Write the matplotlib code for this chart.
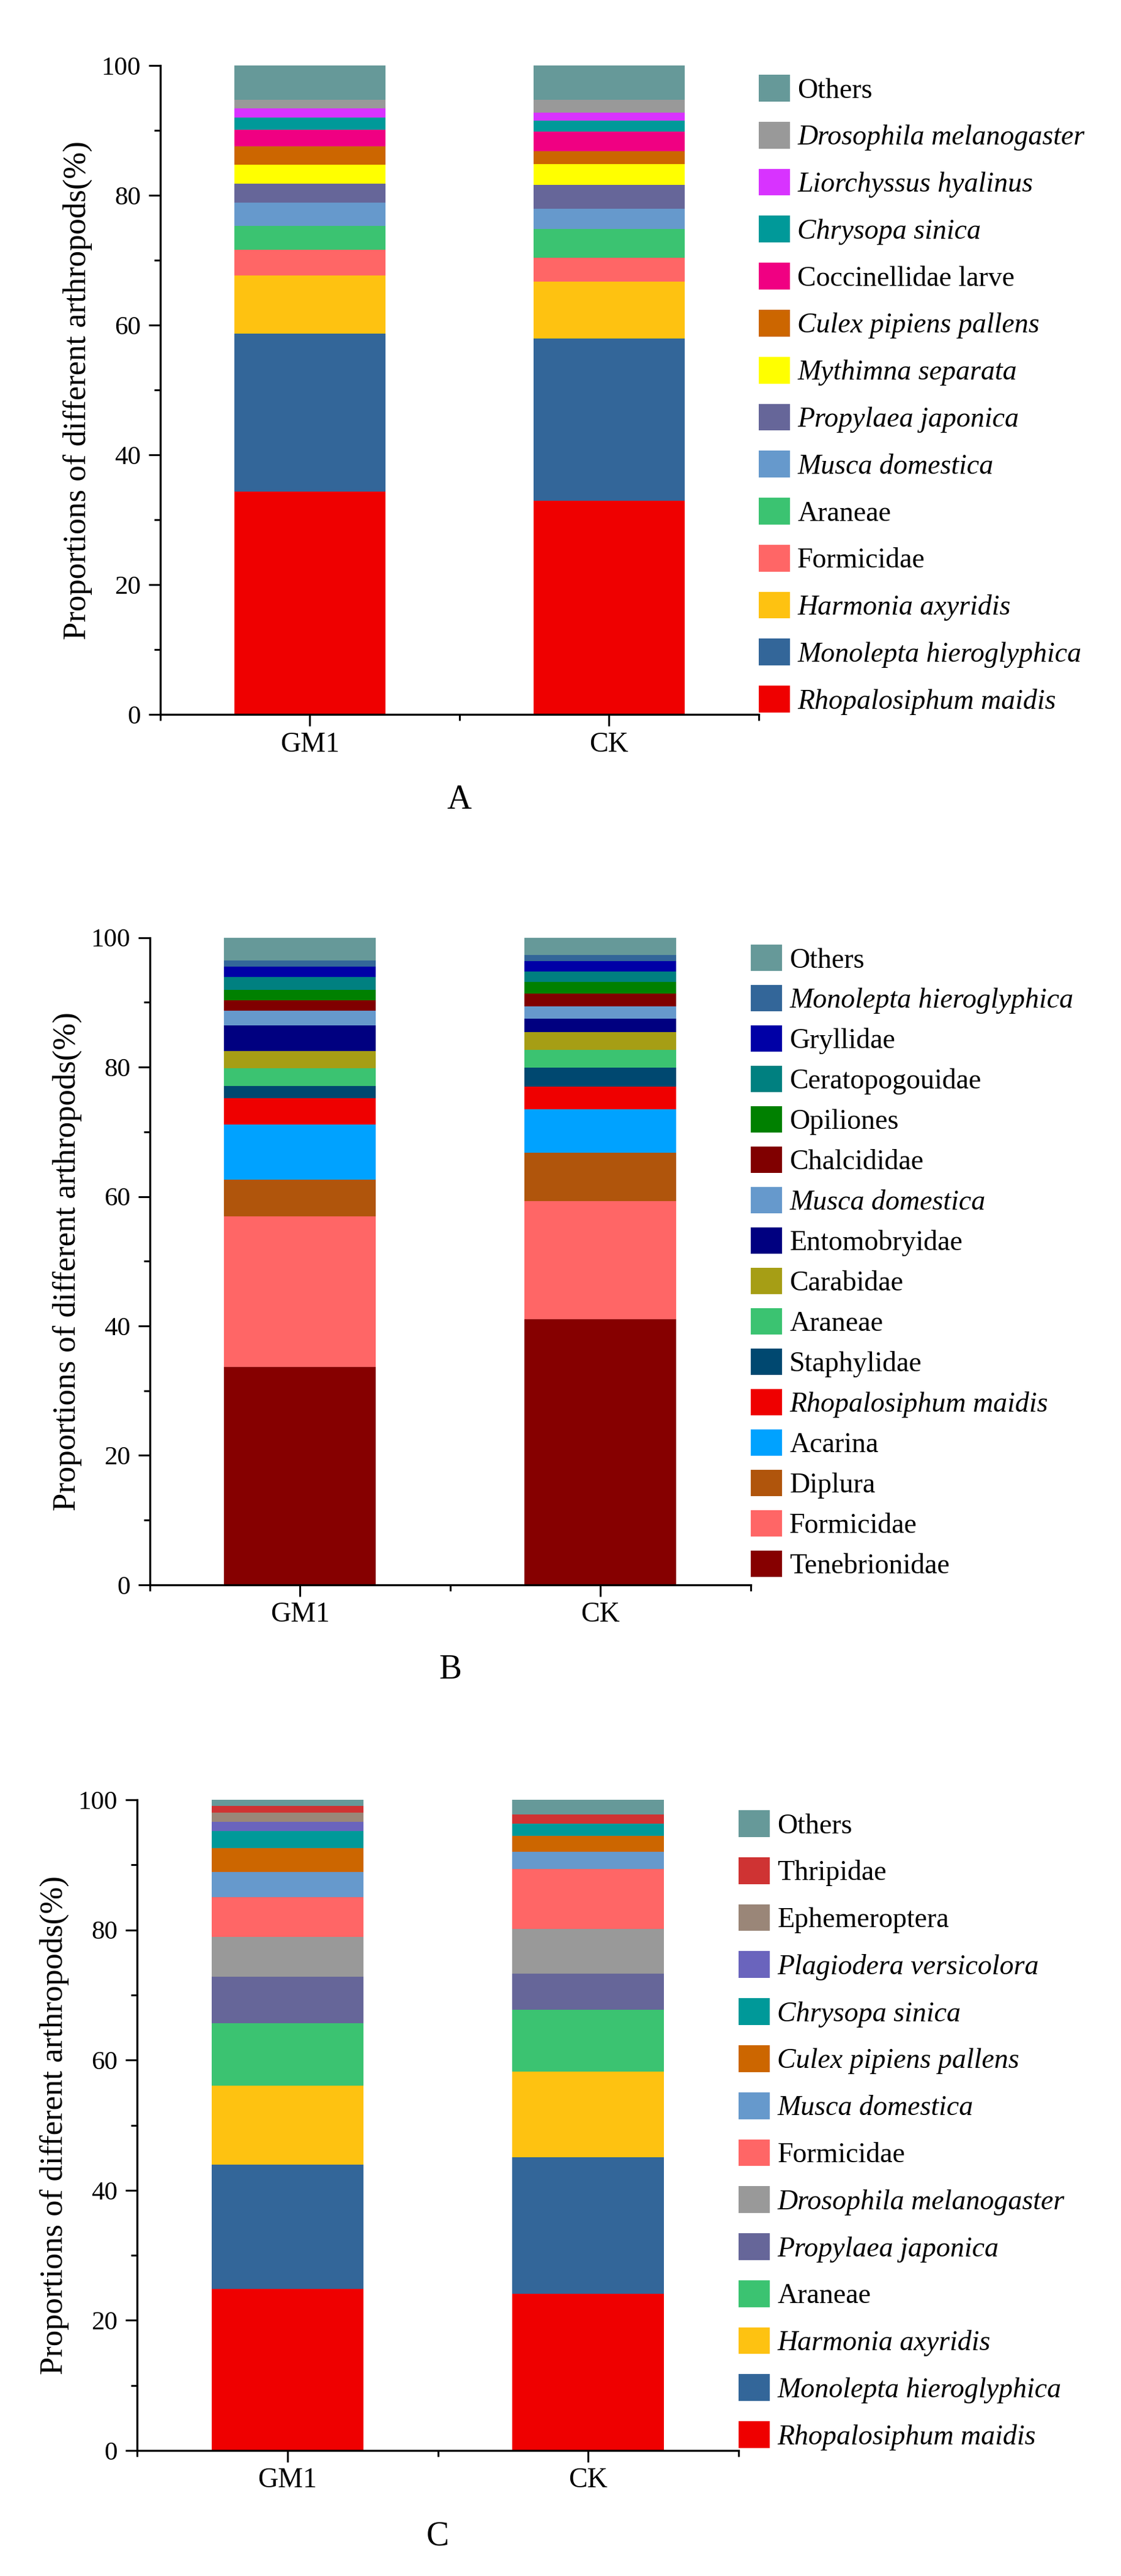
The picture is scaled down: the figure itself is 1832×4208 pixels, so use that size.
import matplotlib.pyplot as plt
import numpy as np

plt.rcParams['font.family'] = ['Liberation Serif', 'DejaVu Serif']

groups = ['GM1', 'CK']

# Panel A: taxa from bottom of the stack to top
names_a = ['Rhopalosiphum maidis', 'Monolepta hieroglyphica', 'Harmonia axyridis',
           'Formicidae', 'Araneae', 'Musca domestica', 'Propylaea japonica',
           'Mythimna separata', 'Culex pipiens pallens', 'Coccinellidae larve',
           'Chrysopa sinica', 'Liorchyssus hyalinus', 'Drosophila melanogaster', 'Others']
gm1_a = [34.4, 24.3, 9.0, 3.9, 3.7, 3.6, 2.9, 2.9, 2.9, 2.5, 1.9, 1.4, 1.3, 5.3]
ck_a = [33.0, 25.0, 8.7, 3.7, 4.4, 3.2, 3.6, 3.2, 2.0, 3.0, 1.7, 1.3, 1.9, 5.3]
colors_a = ['#EF0000', '#336699', '#FEC211', '#FF6666', '#3BC371', '#6699CC', '#666699',
            '#FFFF00', '#CC6600', '#F00082', '#009999', '#D833FF', '#999999', '#669999']

# Panel B
names_b = ['Tenebrionidae', 'Formicidae', 'Diplura', 'Acarina', 'Rhopalosiphum maidis',
           'Staphylidae', 'Araneae', 'Carabidae', 'Entomobryidae', 'Musca domestica',
           'Chalcididae', 'Opiliones', 'Ceratopogouidae', 'Gryllidae',
           'Monolepta hieroglyphica', 'Others']
gm1_b = [33.7, 23.2, 5.7, 8.5, 4.1, 1.9, 2.7, 2.7, 3.9, 2.3, 1.6, 1.6, 2.0, 1.6, 1.0, 3.5]
ck_b = [41.0, 18.3, 7.5, 6.7, 3.5, 2.9, 2.8, 2.7, 2.1, 1.9, 2.0, 1.8, 1.6, 1.6, 0.9, 2.7]
colors_b = ['#860000', '#FF6666', '#B0550C', '#00A2FF', '#EF0000', '#004870', '#3BC371',
            '#A69E15', '#000080', '#6699CC', '#800000', '#008000', '#008080', '#0000A6',
            '#336699', '#669999']

# Panel C
names_c = ['Rhopalosiphum maidis', 'Monolepta hieroglyphica', 'Harmonia axyridis', 'Araneae',
           'Propylaea japonica', 'Drosophila melanogaster', 'Formicidae', 'Musca domestica',
           'Culex pipiens pallens', 'Chrysopa sinica', 'Plagiodera versicolora',
           'Ephemeroptera', 'Thripidae', 'Others']
gm1_c = [24.8, 19.1, 12.2, 9.6, 7.1, 6.1, 6.2, 3.8, 3.7, 2.6, 1.4, 1.4, 1.1, 0.9]
ck_c = [24.1, 21.0, 13.1, 9.5, 5.6, 6.9, 9.2, 2.6, 2.5, 1.8, 0.0, 0.0, 1.5, 2.2]
colors_c = ['#EF0000', '#336699', '#FEC211', '#3BC371', '#666699', '#999999', '#FF6666',
            '#6699CC', '#CC6600', '#009999', '#6A64BD', '#9A8678', '#CF3333', '#669999']

# names written in italics (binomials)
italic_names = {'Rhopalosiphum maidis', 'Monolepta hieroglyphica', 'Harmonia axyridis',
                'Musca domestica', 'Propylaea japonica', 'Mythimna separata',
                'Culex pipiens pallens', 'Chrysopa sinica', 'Liorchyssus hyalinus',
                'Drosophila melanogaster', 'Plagiodera versicolora'}

panels = [
    ('A', names_a, gm1_a, ck_a, colors_a, [0.1430, 0.7226, 0.5338, 0.2519], 0.64, 1.09, 0.014),
    ('B', names_b, gm1_b, ck_b, colors_b, [0.1337, 0.3848, 0.5360, 0.2512], 0.41, 1.07, 0.011),
    ('C', names_c, gm1_c, ck_c, colors_c, [0.1223, 0.0487, 0.5366, 0.2526], 0.64, 1.09, 0.016),
]

fig = plt.figure(figsize=(18.32, 42.08), dpi=100)

for letter, names, gm1, ck, colors, rect, spacing, hh, yoff in panels:
    ax = fig.add_axes(rect)
    x = np.arange(len(groups))
    vals = np.array([gm1, ck]).T
    bottom = np.zeros(len(groups))
    handles = []
    for name, v, c in zip(names, vals, colors):
        b = ax.bar(x, v, width=0.505, bottom=bottom, color=c, linewidth=0, label=name)
        handles.append(b)
        bottom = bottom + v

    ax.set_xlim(-0.5, 1.5)
    ax.set_ylim(0, 100)
    ax.set_xticks(x)
    ax.set_xticklabels(groups)
    ax.set_xticks([-0.5, 0.5, 1.5], minor=True)
    ax.set_yticks([0, 20, 40, 60, 80, 100])
    ax.set_yticks([10, 30, 50, 70, 90], minor=True)
    for s in ['top', 'right']:
        ax.spines[s].set_visible(False)
    for s in ['left', 'bottom']:
        ax.spines[s].set_linewidth(2.4)
    ax.tick_params(which='major', direction='out', length=14, width=2.2)
    ax.tick_params(which='minor', direction='out', length=7.5, width=2.2)
    ax.tick_params(axis='x', which='major', labelsize=33, pad=6)
    ax.tick_params(axis='y', which='major', labelsize=31, pad=9)

    ax.set_ylabel('Proportions of different arthropods(%)', fontsize=38)
    ax.yaxis.set_label_coords(-0.113, 0.5)

    ax.text(0.5, -0.132, letter, transform=ax.transAxes, ha='center', va='center',
            fontsize=40)

    leg = ax.legend(handles[::-1], names[::-1], loc='upper left',
                    bbox_to_anchor=(1.0, 1.0 - yoff), frameon=False, fontsize=33,
                    borderaxespad=0, borderpad=0, handlelength=1.12, handleheight=hh,
                    labelspacing=spacing, handletextpad=0.26)
    for t in leg.get_texts():
        if t.get_text() in italic_names:
            t.set_fontstyle('italic')

fig.savefig('out.png', dpi=100)
